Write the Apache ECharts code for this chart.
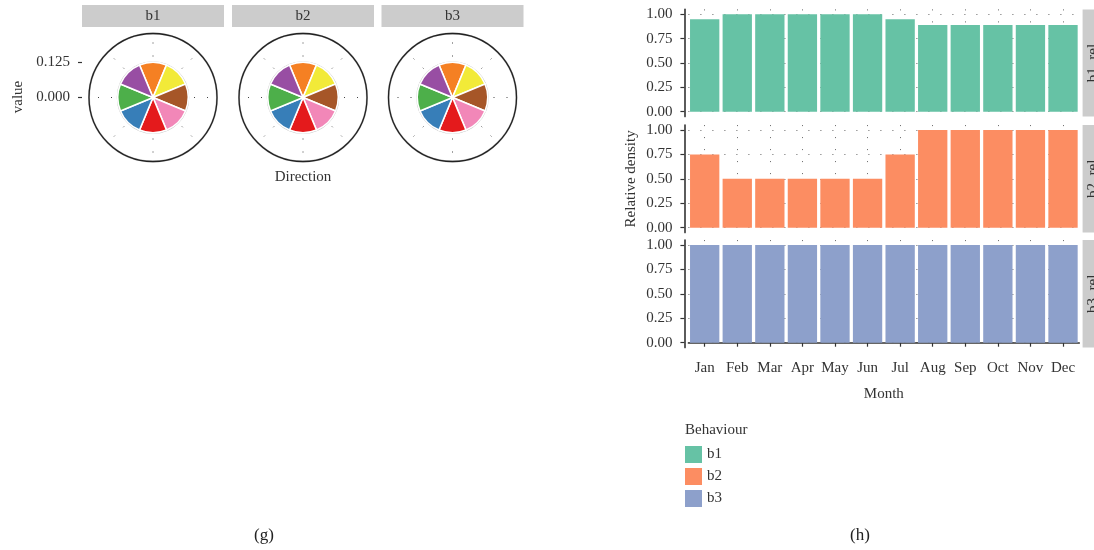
<!DOCTYPE html>
<html><head><meta charset="utf-8">
<script src="https://cdn.jsdelivr.net/npm/echarts@6/dist/echarts.min.js"></script>
<style>html,body{margin:0;padding:0;background:#fff}#c{width:1094px;height:550px}</style>
</head><body><div id="c"></div>
<script>
// ---------- data ----------
const behaviours = ['b1', 'b2', 'b3'];
const directions = ['N', 'NE', 'E', 'SE', 'S', 'SW', 'W', 'NW'];
const dirValuesB1 = [0.125, 0.125, 0.125, 0.125, 0.125, 0.125, 0.125, 0.125];
const dirValuesB2 = [0.125, 0.125, 0.125, 0.125, 0.125, 0.125, 0.125, 0.125];
const dirValuesB3 = [0.125, 0.125, 0.125, 0.125, 0.125, 0.125, 0.125, 0.125];
const valueTicks = [0, 0.125];
const months = ['Jan', 'Feb', 'Mar', 'Apr', 'May', 'Jun', 'Jul', 'Aug', 'Sep', 'Oct', 'Nov', 'Dec'];
const relB1 = [0.95, 1, 1, 1, 1, 1, 0.95, 0.89, 0.89, 0.89, 0.89, 0.89];
const relB2 = [0.75, 0.5, 0.5, 0.5, 0.5, 0.5, 0.75, 1, 1, 1, 1, 1];
const relB3 = [1, 1, 1, 1, 1, 1, 1, 1, 1, 1, 1, 1];
const relTicks = [0, 0.25, 0.5, 0.75, 1];

// ---------- style ----------
const FONT = "'Liberation Serif', 'DejaVu Serif', serif";
const TXT = '#333';
const dirColors = ['#F58023', '#F2EA38', '#A65628', '#F287B8', '#E41A1C', '#377EB8', '#4DAF4A', '#984EA3'];
const behColors = ['#66C2A5', '#FC8D62', '#8DA0CB'];
const dirValues = [dirValuesB1, dirValuesB2, dirValuesB3];
const relValues = [relB1, relB2, relB3];

const polarCX = [153, 303, 452.5], polarCY = 97.5, polarR = 64;
const rMax = 0.227;
const panels = [[9.4, 107.2], [125.1, 107.5], [240.1, 107.5]];
const gridLeft = 688.4, gridWidth = 390.9;

const chart = echarts.init(document.getElementById('c'), null, {renderer: 'canvas'});

const polar = [], angleAxis = [], radiusAxis = [], series = [];
behaviours.forEach((b, i) => {
  polar.push({center: [polarCX[i], polarCY], radius: [0, polarR]});
  polar.push({center: [polarCX[i], polarCY], radius: [0, polarR]});
  angleAxis.push({
    polarIndex: 2 * i, type: 'value', min: 0, max: 360, interval: 45, startAngle: 90,
    axisLine: {show: false}, axisTick: {show: false}, axisLabel: {show: false},
    splitLine: {show: true, lineStyle: {color: '#444', width: 1, type: [1, 12], dashOffset: 4}}
  });
  angleAxis.push({
    polarIndex: 2 * i + 1, type: 'category', data: directions, startAngle: 112.5,
    axisLine: {show: true, lineStyle: {color: '#222', width: 1.3}},
    axisTick: {show: false}, axisLabel: {show: false}, splitLine: {show: false}
  });
  radiusAxis.push({
    polarIndex: 2 * i, type: 'value', min: 0, max: rMax, interval: 0.125,
    axisLine: {show: false}, axisTick: {show: false}, axisLabel: {show: false},
    splitLine: {show: true, lineStyle: {color: '#c4c4c4', width: 2}}
  });
  radiusAxis.push({
    polarIndex: 2 * i + 1, type: 'value', min: 0, max: rMax,
    axisLine: {show: false}, axisTick: {show: false}, axisLabel: {show: false}, splitLine: {show: false}
  });
  series.push({
    type: 'bar', coordinateSystem: 'polar', polarIndex: 2 * i + 1, name: b + ' direction',
    data: dirValues[i].map((v, k) => ({value: v, itemStyle: {color: dirColors[k]}})),
    barCategoryGap: '0%', itemStyle: {borderColor: '#fff', borderWidth: 1.6}, silent: true, z: 3
  });
});

const grid = [], xAxis = [], yAxis = [];
panels.forEach((p, i) => {
  grid.push({left: gridLeft, width: gridWidth, top: p[0], height: p[1]});
  const last = i === panels.length - 1;
  xAxis.push({
    gridIndex: i, type: 'category', data: months, boundaryGap: true,
    axisLine: {show: last, lineStyle: {color: '#333', width: 1.6}},
    axisTick: {show: last, interval: 0, alignWithLabel: true, length: 4, lineStyle: {color: '#333', width: 1.2}},
    axisLabel: {show: last, interval: 0, margin: 13, fontSize: 15, fontFamily: FONT, color: TXT},
    splitLine: {show: true, interval: 0, alignWithLabel: true, lineStyle: {color: '#666', width: 1, type: [1, 11]}},
    name: last ? 'Month' : '', nameLocation: 'middle', nameGap: 39,
    nameTextStyle: {fontSize: 15, fontFamily: FONT, color: TXT}
  });
  yAxis.push({
    gridIndex: i, type: 'value', min: -0.05, max: 1.05, offset: 4,
    axisLine: {show: true, lineStyle: {color: '#333', width: 1.6}},
    axisTick: {show: true, length: 4, customValues: relTicks, lineStyle: {color: '#333', width: 1.2}},
    axisLabel: {customValues: relTicks, formatter: v => v.toFixed(2), margin: 12, fontSize: 15, fontFamily: FONT, color: TXT},
    splitLine: {show: true, customValues: relTicks, lineStyle: {color: '#666', width: 1, type: [1, 11]}},
    name: i === 1 ? 'Relative density' : '', nameLocation: 'middle', nameGap: 46,
    nameTextStyle: {fontSize: 15, fontFamily: FONT, color: TXT}
  });
  series.push({
    type: 'bar', name: behaviours[i], xAxisIndex: i, yAxisIndex: i, data: relValues[i],
    barCategoryGap: '10%', itemStyle: {color: behColors[i]}, silent: true
  });
});
// left "value" axis for polar facets
grid.push({left: 82, top: 62, width: 10, height: 35.5});
xAxis.push({gridIndex: 3, type: 'value', show: false});
yAxis.push({
  gridIndex: 3, type: 'value', min: 0, max: 0.125, interval: 0.125,
  axisLine: {show: false},
  axisTick: {show: true, length: 4, customValues: valueTicks, lineStyle: {color: '#333', width: 1.2}},
  axisLabel: {customValues: valueTicks, formatter: v => v.toFixed(3), margin: 12, fontSize: 15, fontFamily: FONT, color: TXT},
  splitLine: {show: false}
});

const graphic = [];
behaviours.forEach((b, i) => {
  graphic.push({type: 'rect', shape: {x: polarCX[i] - 71, y: 5, width: 142, height: 22}, style: {fill: '#cccccc'}, silent: true});
  graphic.push({type: 'text', x: polarCX[i], y: 16.5, style: {text: b, textAlign: 'center', textVerticalAlign: 'middle', font: '15px ' + FONT, fill: TXT}, silent: true});
  const p = panels[i];
  graphic.push({type: 'rect', shape: {x: 1082.6, y: p[0], width: 22, height: p[1]}, style: {fill: '#cccccc'}, silent: true});
  graphic.push({type: 'text', x: 1093, y: p[0] + p[1] / 2, rotation: Math.PI / 2, style: {text: b + '_rel', textAlign: 'center', textVerticalAlign: 'middle', font: '15px ' + FONT, fill: TXT}, silent: true});
});
graphic.push({type: 'text', x: 18, y: 97, rotation: Math.PI / 2, style: {text: 'value', textAlign: 'center', textVerticalAlign: 'middle', font: '15px ' + FONT, fill: TXT}});
graphic.push({type: 'text', x: 303, y: 177, style: {text: 'Direction', textAlign: 'center', textVerticalAlign: 'middle', font: '15px ' + FONT, fill: TXT}});
graphic.push({type: 'text', x: 685, y: 430, style: {text: 'Behaviour', textAlign: 'left', textVerticalAlign: 'middle', font: '15px ' + FONT, fill: TXT}});
graphic.push({type: 'text', x: 264, y: 536, style: {text: '(g)', textAlign: 'center', textVerticalAlign: 'middle', font: '17px ' + FONT, fill: '#222'}});
graphic.push({type: 'text', x: 860, y: 536, style: {text: '(h)', textAlign: 'center', textVerticalAlign: 'middle', font: '17px ' + FONT, fill: '#222'}});

chart.setOption({
  animation: false,
  backgroundColor: '#fff',
  textStyle: {fontFamily: FONT},
  polar, angleAxis, radiusAxis, grid, xAxis, yAxis, series, graphic,
  legend: {
    data: behaviours, orient: 'vertical', left: 685, top: 446, padding: 0,
    itemWidth: 17, itemHeight: 17, itemGap: 5, icon: 'rect',
    textStyle: {fontSize: 15, fontFamily: FONT, color: TXT}
  }
});
</script></body></html>
